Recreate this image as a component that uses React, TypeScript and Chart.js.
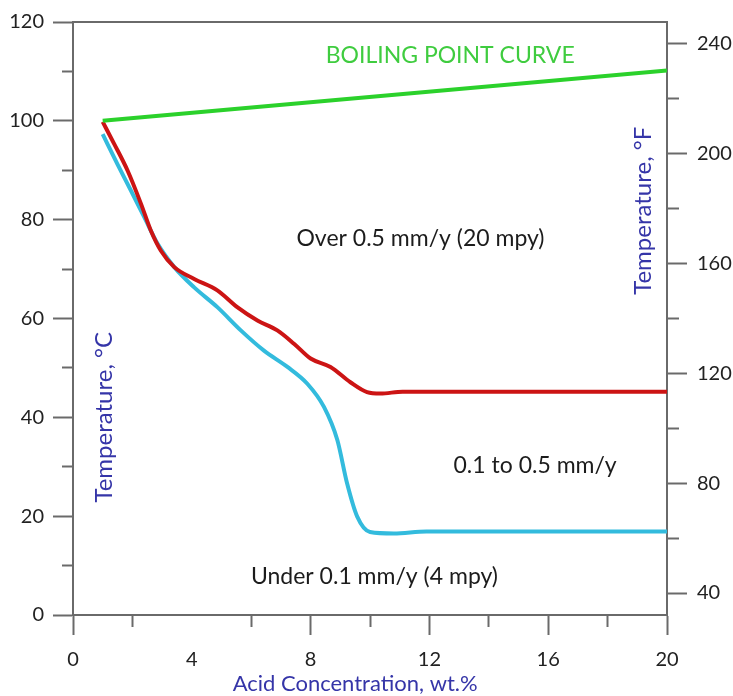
import React, { useEffect, useRef } from "react";
import { Chart, registerables } from "chart.js";

Chart.register(...registerables);

// ---- data ----
const boilingX = [1, 20];
const boilingC = [100, 110.2];

const fastX = [1.0, 1.39, 1.84, 2.29, 2.62, 2.96, 3.41, 4.08, 4.86, 5.53, 6.21, 6.88, 7.44, 8.0, 8.67, 9.34, 9.9, 10.35, 11.1, 20];
const fastC = [99.8, 95.3, 89.9, 83.2, 77.8, 73.7, 70.4, 68.0, 65.7, 62.3, 59.6, 57.6, 54.9, 51.9, 50.2, 47.1, 45.1, 44.8, 45.2, 45.2];

const slowX = [1.0, 1.5, 1.95, 2.4, 2.85, 3.41, 4.08, 4.86, 5.65, 6.43, 7.22, 7.89, 8.45, 8.9, 9.23, 9.57, 10.0, 10.8, 11.9, 20];
const slowC = [97.3, 91.2, 85.9, 80.5, 75.1, 70.4, 66.3, 62.3, 57.6, 53.5, 50.2, 46.8, 42.1, 35.4, 26.6, 19.9, 16.8, 16.5, 16.9, 16.9];

const xTicks = [0, 2, 4, 6, 8, 10, 12, 14, 16, 18, 20];
const xTicksWithoutMark = [4]; // the reference shows the label "4" but no tick mark there
const cTicks = [0, 10, 20, 30, 40, 50, 60, 70, 80, 90, 100, 110, 120];
const fTicks = [40, 60, 80, 100, 120, 140, 160, 180, 200, 220, 240];

const notes = [
  { text: "BOILING POINT CURVE", x: 12.7, y: 113.2, color: "#3fcc3f", size: 23, rotate: false },
  { text: "Over 0.5 mm/y (20 mpy)", x: 11.7, y: 76.2, color: "#1c1c1c", size: 23, rotate: false },
  { text: "0.1 to 0.5 mm/y", x: 15.56, y: 30.3, color: "#1c1c1c", size: 23, rotate: false },
  { text: "Under 0.1 mm/y (4 mpy)", x: 10.15, y: 7.7, color: "#1c1c1c", size: 23, rotate: false },
  { text: "Temperature, °C", x: 1.04, y: 40, color: "#3535a8", size: 24, rotate: true },
  { text: "Temperature, °F", x: 19.2, y: 81.8, color: "#3535a8", size: 24, rotate: true },
  { text: "Acid Concentration, wt.%", x: 9.5, y: -13.9, color: "#3535a8", size: 22, rotate: false },
];

const AXIS = "#6a6a6a";
const FONT = 'Lato, "DejaVu Sans", sans-serif';

const pts = (xs: number[], ys: number[]) => xs.map((x, i) => ({ x, y: ys[i] }));

const notesPlugin = {
  id: "notes",
  afterDraw(chart: any) {
    const { ctx } = chart;
    const x = chart.scales.x;
    const y = chart.scales.y;
    notes.forEach((n) => {
      ctx.save();
      ctx.font = `${n.size}px ${FONT}`;
      ctx.fillStyle = n.color;
      ctx.textAlign = "center";
      ctx.textBaseline = "middle";
      ctx.translate(x.getPixelForValue(n.x), y.getPixelForValue(n.y));
      if (n.rotate) ctx.rotate(-Math.PI / 2);
      ctx.fillText(n.text, 0, 0);
      ctx.restore();
    });
  },
};

export default function App() {
  const ref = useRef<HTMLCanvasElement | null>(null);

  useEffect(() => {
    if (!ref.current) return;
    const tickFont = { family: FONT, size: 20 };
    const chart = new Chart(ref.current, {
      type: "line",
      data: {
        datasets: [
          {
            label: "Boiling point",
            data: pts(boilingX, boilingC),
            borderColor: "#2bd12b",
            borderWidth: 4,
            pointRadius: 0,
            yAxisID: "y",
            xAxisID: "x",
          },
          {
            label: "0.5 mm/y",
            data: pts(fastX, fastC),
            borderColor: "#cc1414",
            borderWidth: 4,
            pointRadius: 0,
            cubicInterpolationMode: "monotone",
            yAxisID: "y",
            xAxisID: "x",
          },
          {
            label: "0.1 mm/y",
            data: pts(slowX, slowC),
            borderColor: "#33bbdd",
            borderWidth: 4,
            pointRadius: 0,
            cubicInterpolationMode: "monotone",
            yAxisID: "y",
            xAxisID: "x",
          },
        ],
      },
      options: {
        animation: false,
        responsive: false,
        layout: { padding: 0 },
        plugins: { legend: { display: false }, tooltip: { enabled: false } },
        scales: {
          x: {
            type: "linear",
            position: "bottom",
            min: 0,
            max: 20,
            afterBuildTicks: (s: any) => {
              s.ticks = xTicks.map((v) => ({ value: v }));
            },
            afterFit: (s: any) => {
              s.height = 81;
            },
            ticks: {
              autoSkip: false,
              maxRotation: 0,
              padding: 13,
              color: "#222",
              font: tickFont,
              callback: (v: any) => (Number(v) % 4 === 0 ? String(v) : ""),
            },
            grid: {
              drawOnChartArea: false,
              drawTicks: true,
              tickLength: 20,
              tickColor: (c: any) =>
                c.tick && xTicksWithoutMark.includes(c.tick.value) ? "rgba(0,0,0,0)" : AXIS,
              tickWidth: 2,
              tickBorderDash: (c: any) => (c.tick && c.tick.value % 4 !== 0 ? [11, 100] : []),
            },
            border: { display: true, color: AXIS, width: 2 },
          },
          xTop: {
            type: "linear",
            position: "top",
            min: 0,
            max: 20,
            afterFit: (s: any) => {
              s.height = 21;
            },
            ticks: { display: false },
            grid: { drawOnChartArea: false, drawTicks: false },
            border: { display: true, color: AXIS, width: 2 },
          },
          y: {
            type: "linear",
            position: "left",
            min: 0,
            max: 120,
            afterBuildTicks: (s: any) => {
              s.ticks = cTicks.map((v) => ({ value: v }));
            },
            afterFit: (s: any) => {
              s.width = 73;
            },
            ticks: {
              autoSkip: false,
              padding: 9,
              color: "#222",
              font: tickFont,
              callback: (v: any) => (Number(v) % 20 === 0 ? String(v) : ""),
            },
            grid: {
              drawOnChartArea: false,
              drawTicks: true,
              tickLength: 20,
              tickColor: AXIS,
              tickWidth: 2,
              tickBorderDash: (c: any) => (c.tick && c.tick.value % 20 !== 0 ? [11, 100] : []),
              tickBorderDashOffset: (c: any) => (c.tick && c.tick.value % 20 !== 0 ? 102 : 0),
            },
            border: { display: true, color: AXIS, width: 2 },
          },
          yF: {
            type: "linear",
            position: "right",
            min: 32,
            max: 248,
            afterBuildTicks: (s: any) => {
              s.ticks = fTicks.map((v) => ({ value: v }));
            },
            afterFit: (s: any) => {
              s.width = 66;
            },
            ticks: {
              autoSkip: false,
              padding: 10,
              color: "#222",
              font: tickFont,
              callback: (v: any) => (Number(v) % 40 === 0 ? String(v) : ""),
            },
            grid: {
              drawOnChartArea: false,
              drawTicks: true,
              tickLength: 20,
              tickColor: AXIS,
              tickWidth: 2,
              tickBorderDash: (c: any) => (c.tick && c.tick.value % 40 !== 0 ? [11, 100] : []),
            },
            border: { display: true, color: AXIS, width: 2 },
          },
        },
      } as any,
      plugins: [notesPlugin],
    });
    return () => chart.destroy();
  }, []);

  return (
    <div style={{ position: "fixed", left: 0, top: 0, width: 733, height: 696, background: "#fff" }}>
      <canvas ref={ref} width={733} height={696} />
    </div>
  );
}
